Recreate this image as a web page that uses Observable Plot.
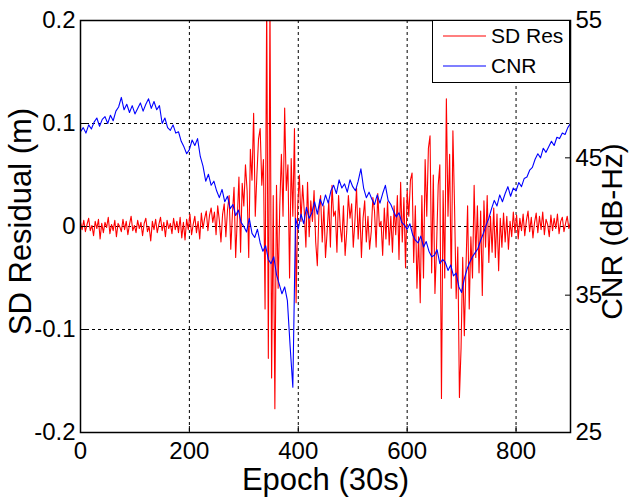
<!DOCTYPE html>
<html>
<head>
<meta charset="utf-8">
<script src="https://cdn.jsdelivr.net/npm/d3@7"></script>
<script src="https://cdn.jsdelivr.net/npm/@observablehq/plot@0.6"></script>
<style>
  html, body { margin: 0; padding: 0; background: white; }
  #wrap { position: relative; width: 629px; height: 498px; font-family: "Liberation Sans", Arial, sans-serif; }
  #legend { position: absolute; left: 432px; top: 20px; width: 138px; height: 63px; border: 1.5px solid black; background: white; box-sizing: border-box; }
</style>
</head>
<body>
<div id="wrap"></div>
<script>
// Epoch step (30 s epochs) for each series
const resStep = 3;
const cnrStep = 5;

// SD residual (m), one value every 3 epochs, 0..900
const sdRes = [
  0.004, -0.003, 0.006, -0.005, 0.002, 0.008, -0.004, 0.001, -0.009, 0.005,
  -0.002, 0.007, -0.012, 0.003, -0.006, 0.004, -0.001, 0.009, -0.007, 0.002,
  -0.004, 0.006, -0.010, 0.003, 0.000, -0.005, 0.007, -0.003, 0.005, -0.008,
  0.002, 0.010, -0.004, 0.001, -0.006, 0.006, -0.002, 0.004, -0.009, 0.003,
  0.008, -0.005, 0.000, -0.014, 0.005, -0.003, 0.007, -0.006, 0.002, 0.009,
  -0.004, 0.004, -0.010, 0.006, -0.002, 0.003, -0.007, 0.008, -0.003, 0.005,
  -0.006, 0.009, -0.011, 0.004, -0.013, 0.007, -0.003, 0.012, -0.008, 0.002,
  0.010, -0.006, 0.005, -0.012, 0.013, -0.002, 0.008, 0.015, -0.004, 0.011,
  0.018, 0.004, 0.014, -0.008, 0.020, 0.006, -0.015, 0.012, 0.022, -0.010,
  0.016, 0.030, -0.022, 0.012, 0.038, -0.030, 0.008, 0.048, -0.025, 0.042,
  0.020, 0.060, 0.035, -0.030, 0.075, 0.045, 0.110, 0.010, 0.050, 0.085,
  0.095, 0.040, 0.065, -0.080, 0.220, -0.128, 0.220, -0.147, 0.030, -0.177,
  0.040, -0.060, 0.020, 0.070, 0.010, 0.115, 0.035, 0.060, -0.050, 0.066,
  0.010, 0.095, -0.074, 0.020, 0.050, 0.005, 0.040, 0.015, -0.020, 0.043,
  -0.010, 0.025, 0.005, 0.035, -0.015, -0.038, 0.015, 0.030, -0.015, 0.020,
  -0.030, -0.005, 0.025, -0.020, 0.040, 0.010, 0.015, -0.025, 0.030, 0.000,
  -0.015, 0.020, -0.028, -0.005, 0.030, 0.008, 0.022, -0.020, 0.005, 0.037,
  -0.012, 0.018, -0.030, 0.008, 0.025, -0.015, 0.010, -0.022, -0.005, 0.028,
  0.015, -0.020, 0.032, 0.000, 0.005, -0.028, 0.018, -0.012, 0.024, -0.018,
  0.010, -0.025, 0.020, -0.008, 0.030, -0.032, 0.043, -0.015, 0.028, -0.040,
  0.035, 0.010, 0.045, 0.052, -0.035, 0.020, -0.060, -0.010, -0.074, 0.030,
  -0.050, 0.065, 0.010, 0.076, 0.088, -0.045, 0.050, -0.065, -0.020, 0.040,
  0.060, -0.167, 0.035, -0.050, 0.124, 0.010, 0.070, -0.060, 0.093, 0.020,
  -0.070, -0.020, -0.166, -0.118, -0.030, -0.106, -0.040, 0.020, -0.080, -0.010,
  -0.050, 0.040, -0.030, 0.020, -0.045, 0.015, -0.067, 0.025, -0.020, 0.030,
  -0.035, 0.010, -0.025, 0.018, -0.030, 0.012, -0.043, 0.008, -0.020, 0.013,
  -0.015, 0.010, -0.022, 0.005, -0.010, 0.014, -0.006, 0.011, -0.012, 0.008,
  -0.004, 0.012, -0.009, 0.006, 0.015, -0.005, 0.009, -0.011, 0.004, 0.013,
  -0.006, 0.010, -0.003, 0.014, -0.008, 0.007, 0.002, -0.010, 0.011, -0.004,
  0.008, -0.002, 0.012, -0.007, 0.005, 0.009, -0.005, 0.003, 0.010, -0.002,
  0.004
];

// CNR (dB-Hz), one value every 5 epochs, 0..900
const cnr = [
  46.9, 47.2, 46.8, 47.4, 47.1, 47.6, 47.9, 47.3, 47.8, 48.0,
  47.5, 48.1, 47.7, 48.4, 48.7, 49.4, 48.5, 48.9, 48.3, 48.8,
  48.2, 48.6, 49.0, 48.4, 48.9, 49.3, 48.6, 49.1, 48.5, 48.8,
  47.5, 47.9, 47.2, 47.0, 47.4, 46.8, 46.9, 46.2, 45.8, 45.3,
  45.6, 46.3, 45.9, 46.4, 45.1, 44.4, 43.3, 43.8, 43.0, 43.3,
  42.6, 42.1, 42.7, 41.8, 42.2, 41.3, 41.6, 40.8, 41.2, 40.3,
  40.0, 39.6, 40.6, 39.5, 39.2, 39.8, 38.8, 38.2, 38.6, 37.6,
  37.3, 37.8, 36.5, 35.8, 35.1, 35.6, 34.6, 31.3, 28.3, 40.6,
  39.8, 40.9, 40.2, 41.4, 40.6, 41.0, 41.8, 40.9, 42.0, 41.5,
  42.3, 41.7, 42.6, 43.0, 42.4, 43.4, 42.8, 43.1, 42.5, 43.4,
  42.9, 42.6, 43.3, 44.2, 42.8, 42.1, 42.5, 42.0, 41.6, 42.3,
  41.7, 42.4, 43.0, 41.9, 41.6, 41.1, 40.7, 41.0, 40.3, 40.1,
  39.8, 40.2, 39.4, 39.0, 38.8, 39.3, 38.5, 38.9, 38.2, 37.8,
  37.9, 38.3, 37.3, 37.6, 37.4, 36.8, 37.2, 36.4, 36.6, 35.6,
  35.2, 36.2, 36.9, 37.4, 37.8, 38.1, 38.4, 39.0, 39.5, 40.1,
  40.6, 41.3, 41.9, 41.5, 42.3, 41.8, 42.4, 42.9, 42.2, 42.8,
  42.6, 43.2, 42.9, 43.5, 43.6, 44.1, 44.3, 44.9, 45.3, 45.0,
  45.7, 45.4, 45.8, 46.2, 45.9, 46.5, 46.4, 46.8, 46.7, 47.2,
  47.5
];

const xTicks = [0, 200, 400, 600, 800];
const resTicks = [-0.2, -0.1, 0, 0.1, 0.2];
const cnrTicks = [25, 35, 45, 55];
const gridX = [200, 400, 600, 800];
const gridY = [-0.1, 0, 0.1];

// map CNR onto the residual axis: 25 -> -0.2, 55 -> 0.2
const cnrToRes = v => (v - 40) / 75;
const resToCnr = r => r * 75 + 40;

const resData = sdRes.map((v, i) => ({epoch: i * resStep, v}));
const cnrData = cnr.map((v, i) => ({epoch: i * cnrStep, v: cnrToRes(v)}));

const fmtRes = d => d === 0 ? "0" : d.toFixed(1);

const font = "'Liberation Sans', Arial, sans-serif";

const chart = Plot.plot({
  width: 629,
  height: 498,
  marginLeft: 80,
  marginRight: 59,
  marginTop: 20,
  marginBottom: 66,
  style: {fontFamily: font, fontSize: "23px", color: "black", background: "white", overflow: "visible"},
  x: {domain: [0, 900]},
  y: {domain: [-0.2, 0.2]},
  marks: [
    Plot.ruleX(gridX, {stroke: "black", strokeDasharray: "3,3", strokeWidth: 1}),
    Plot.ruleY(gridY, {stroke: "black", strokeDasharray: "3,3", strokeWidth: 1}),
    Plot.lineY(resData, {x: "epoch", y: "v", stroke: "#ff0000", strokeWidth: 1.1, clip: true}),
    Plot.lineY(cnrData, {x: "epoch", y: "v", stroke: "#0000ff", strokeWidth: 1.1, clip: true}),
    Plot.frame({stroke: "black", strokeWidth: 1.5}),
    Plot.axisX({ticks: xTicks, tickFormat: d => String(d), tickSize: -6, tickPadding: 15, label: null, fontSize: 24}),
    Plot.axisY({ticks: resTicks, tickFormat: fmtRes, tickSize: -6, tickPadding: 11, label: null, fontSize: 24}),
    Plot.axisY({anchor: "right", ticks: cnrTicks.map(cnrToRes), tickFormat: r => String(Math.round(resToCnr(r))), tickSize: -6, tickPadding: 11, label: null, fontSize: 24}),
    Plot.text(["SD Residual (m)"], {frameAnchor: "left", textAnchor: "middle", lineAnchor: "middle", dx: -59, dy: -5, rotate: -90, fontSize: 31, text: d => d}),
    Plot.text(["CNR (dB-Hz)"], {frameAnchor: "right", textAnchor: "middle", lineAnchor: "middle", dx: 42, dy: 5, rotate: -90, fontSize: 30, text: d => d}),
    Plot.text(["Epoch (30s)"], {frameAnchor: "bottom", textAnchor: "middle", lineAnchor: "middle", dy: 48, fontSize: 31, text: d => d})
  ]
});

const wrap = document.getElementById("wrap");
wrap.appendChild(chart);

const legend = document.createElement("div");
legend.id = "legend";
legend.innerHTML = `
<svg width="138" height="63" style="position:absolute;left:0;top:0">
  <line x1="10" x2="53" y1="15" y2="15" stroke="#ff0000" stroke-width="1.1"/>
  <line x1="10" x2="53" y1="45" y2="45" stroke="#0000ff" stroke-width="1.1"/>
  <text x="58" y="15" dy="0.35em" font-size="21" font-family="${font}">SD Res</text>
  <text x="58" y="45" dy="0.35em" font-size="21" font-family="${font}">CNR</text>
</svg>`;
wrap.appendChild(legend);
</script>
</body>
</html>
